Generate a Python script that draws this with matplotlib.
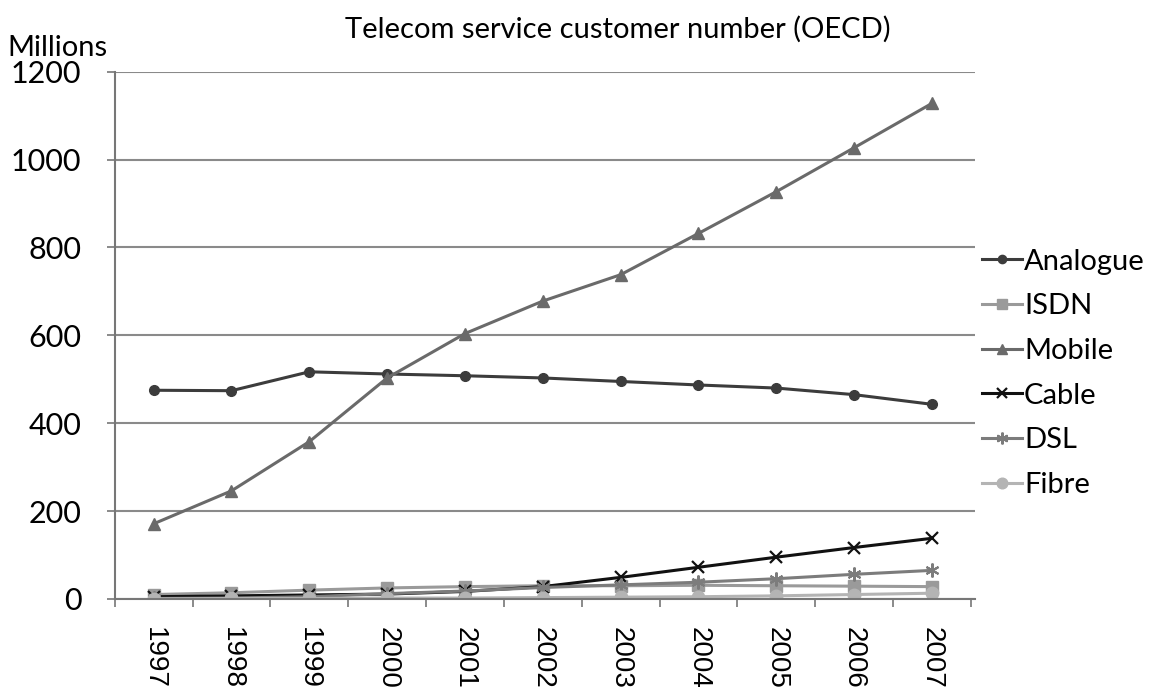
import numpy as np
import matplotlib
matplotlib.use('Agg')
import matplotlib.pyplot as plt

### ------------------- Data -------------------

years = ['1997', '1998', '1999', '2000', '2001', '2002',
         '2003', '2004', '2005', '2006', '2007']

analogue = [475, 474, 517, 512, 508, 503, 495, 487, 480, 465, 443]
isdn     = [10, 14, 20, 25, 28, 30, 30, 31, 30, 29, 28]
mobile   = [171, 246, 358, 503, 604, 678, 738, 832, 927, 1027, 1128]
cable    = [5, 7, 9, 11, 17, 28, 49, 72, 95, 117, 138]
dsl      = [1, 2, 5, 12, 18, 26, 32, 38, 46, 56, 65]
fibre    = [0, 1, 1, 2, 2, 3, 4, 5, 7, 10, 13]

names = ['Analogue', 'ISDN', 'Mobile', 'Cable', 'DSL', 'Fibre']
series = [analogue, isdn, mobile, cable, dsl, fibre]

styles = [
    dict(color='#3c3c3c', marker='o', ms=7),
    dict(color='#9a9a9a', marker='s', ms=8),
    dict(color='#6a6a6a', marker='^', ms=8),
    dict(color='#111111', marker='x', ms=9, mew=1.6),
    dict(color='#7c7c7c', marker=(6, 2, 0), ms=10, mew=1.5),
    dict(color='#b4b4b4', marker='o', ms=9),
]

FONT = 'Lato'

### ------------------- Plot -------------------

fig = plt.figure(figsize=(11.59, 6.9), dpi=100)
ax = fig.add_axes([0.099, 0.132, 0.742, 0.764])

x = np.arange(len(years))
for name, vals, st in zip(names, series, styles):
    ax.plot(x, vals, lw=2.2, label=name, **st)

ax.set_xlim(-0.5, len(years) - 0.5 + 0.05)
ax.set_ylim(0, 1200)
ax.set_yticks(range(0, 1201, 200))
ax.yaxis.grid(True, color='#8a8a8a', lw=1.5)
ax.set_axisbelow(True)

for s in ['top', 'right']:
    ax.spines[s].set_visible(False)
ax.spines['left'].set_color('#777777')
ax.spines['bottom'].set_color('#777777')
ax.spines['left'].set_linewidth(1.5)
ax.spines['bottom'].set_linewidth(1.5)

# years sit between the category tick marks
ax.set_xticks(x)
ax.set_xticklabels(years, rotation=270, fontsize=20, family='Liberation Sans')
ax.set_xticks(np.arange(-0.5, len(years)), minor=True)
ax.tick_params(axis='x', which='major', length=0, pad=20)
ax.tick_params(axis='x', which='minor', length=6, color='#777777', width=1.2)
ax.tick_params(axis='y', length=6, color='#777777', width=1.2, pad=18,
               labelsize=22)
for lab in ax.get_yticklabels():
    lab.set_family(FONT)

fig.text(0.006, 0.930, 'Millions', fontsize=21, family=FONT, va='center')
fig.text(0.533, 0.958, 'Telecom service customer number (OECD)',
         fontsize=21, family=FONT, ha='center', va='center')

leg = ax.legend(loc='center left', bbox_to_anchor=(1.008, 0.428), frameon=False,
                prop={'family': FONT, 'size': 21}, handlelength=1.4,
                handletextpad=0.05, labelspacing=0.64, markerscale=0.85,
                borderaxespad=0, borderpad=0)

plt.savefig('out.png', dpi=100)
